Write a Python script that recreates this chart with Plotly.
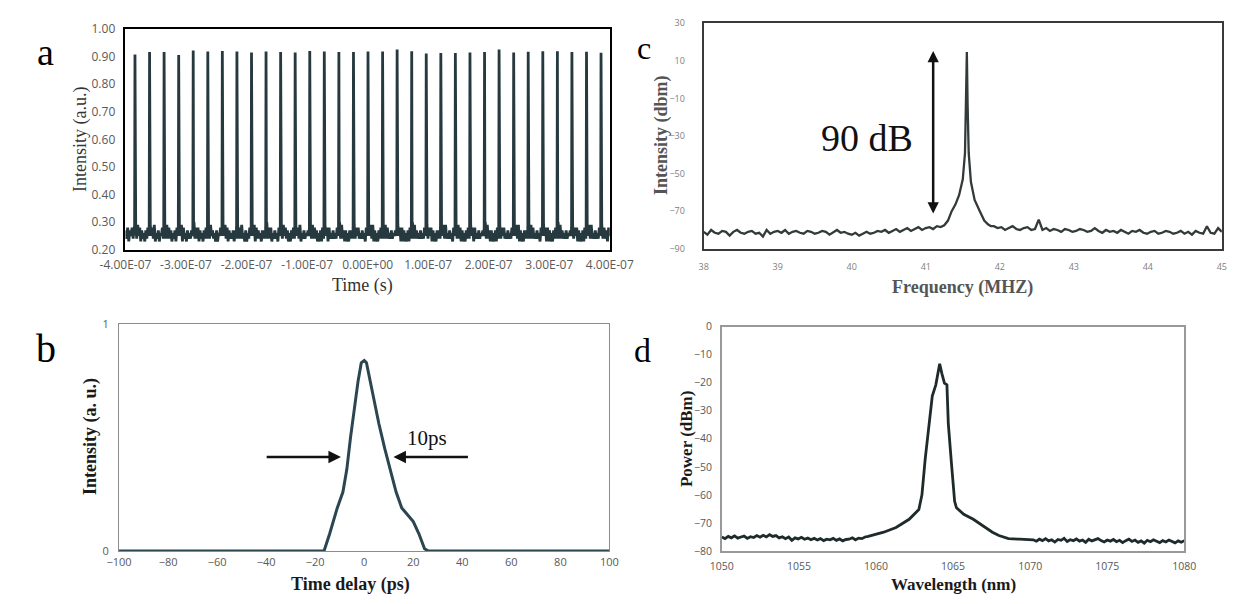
import plotly.graph_objects as go

W, H = 1252, 604

# ---------------- Panel a: pulse train ----------------
a_peak_times_ns = [-384.3, -360.2, -336.2, -312.1, -288.1, -264.0, -240.0, -215.9, -191.8,
                   -167.8, -143.7, -119.7, -95.6, -71.6, -47.5, -23.4, 0.6, 24.7, 48.7, 72.8,
                   96.8, 120.9, 144.9, 169.0, 193.1, 217.1, 241.2, 265.2, 289.3, 313.4, 337.4,
                   361.5, 385.5]
a_peak_heights = [0.908, 0.917, 0.917, 0.906, 0.922, 0.919, 0.921, 0.919, 0.915, 0.919, 0.917,
                  0.915, 0.921, 0.919, 0.917, 0.917, 0.919, 0.919, 0.926, 0.920, 0.912, 0.913,
                  0.913, 0.915, 0.917, 0.926, 0.915, 0.918, 0.920, 0.920, 0.917, 0.918, 0.914]
a_lead = "27 24 28 23 27 25 28 24 28"
a_trail = "29 24 28 24 27 23 28 25"
a_gaps = [
    "29 24 29 25 28 23 27 24 26 23 27 24 28 25",
    "29 25 28 24 29 23 26 24 27 23 26 25 28 24",
    "28 24 29 24 28 24 27 23 26 24 27 23 28 25",
    "29 25 29 23 28 24 26 23 27 24 26 24 27 25",
    "30 24 28 24 28 23 27 24 26 23 27 24 28 24",
    "29 24 29 25 27 24 26 23 27 23 26 25 28 25",
    "28 25 29 24 28 23 27 24 26 24 27 23 27 24",
    "29 24 28 24 29 24 26 23 27 23 26 24 28 25",
    "29 25 29 23 28 24 27 24 26 23 27 24 27 24",
    "30 24 28 24 28 23 26 24 27 24 26 23 28 25",
    "29 24 29 25 28 24 27 23 26 23 27 24 28 24",
    "28 25 28 24 29 23 26 24 27 24 26 25 27 25",
    "29 24 29 24 28 24 27 23 26 23 27 23 28 24",
    "29 25 28 23 28 24 26 24 27 24 26 24 28 25",
    "30 24 29 24 27 23 27 23 26 23 27 24 27 24",
    "29 24 28 25 28 24 26 24 27 24 26 23 28 25",
    "28 25 29 24 29 23 27 23 26 23 27 24 28 24",
    "29 24 29 24 28 24 26 24 27 24 26 25 27 25",
    "29 25 28 23 28 23 27 23 26 23 27 23 28 24",
    "30 24 29 24 27 24 26 24 27 24 26 24 28 25",
    "29 24 28 25 28 23 27 23 26 23 27 24 27 24",
    "28 25 29 24 29 24 26 24 27 24 26 23 28 25",
    "29 24 29 24 28 23 27 23 26 23 27 24 28 24",
    "29 25 28 23 28 24 26 24 27 24 26 25 27 25",
    "30 24 29 24 27 23 27 23 26 23 27 23 28 24",
    "29 24 28 25 28 24 26 24 27 24 26 24 28 25",
    "28 25 29 24 29 23 27 23 26 23 27 24 27 24",
    "29 24 29 24 28 24 26 24 27 24 26 23 28 25",
    "29 25 28 23 28 23 27 23 26 23 27 24 28 24",
    "30 24 29 24 27 24 26 24 27 24 26 25 27 25",
    "29 24 28 25 28 23 27 23 26 23 27 23 28 24",
    "28 25 29 24 29 24 26 24 27 24 26 24 28 25",
]
a_x_tickvals = [-4e-7, -3e-7, -2e-7, -1e-7, 0, 1e-7, 2e-7, 3e-7, 4e-7]
a_x_ticktext = ["-4.00E-07", "-3.00E-07", "-2.00E-07", "-1.00E-07", "0.00E+00",
                "1.00E-07", "2.00E-07", "3.00E-07", "4.00E-07"]
a_y_tickvals = [0.2, 0.3, 0.4, 0.5, 0.6, 0.7, 0.8, 0.9, 1.0]

# ---------------- Panel b: autocorrelation ----------------
b_x = [-100, -16.4, -14.1, -11, -8.7, -7.1, -5.6, -4.0, -2.5, -1.2, 0, 0.9, 2.2, 3.7, 6.0,
       8.4, 10.7, 13.0, 15.3, 17.6, 20, 22.3, 24.6, 26.2, 100]
b_y = [0, 0, 0.076, 0.19, 0.26, 0.36, 0.50, 0.63, 0.75, 0.83, 0.84, 0.83, 0.76, 0.68, 0.56,
       0.45, 0.35, 0.26, 0.19, 0.16, 0.13, 0.076, 0.01, 0, 0]

# ---------------- Panel c: RF spectrum ----------------
c_left = ("-81 -82.5 -80 -81.5 -82 -80.5 -81 -83 -81 -80 -81.5 -82 -81 -80.5 -82 -81.5 -83.5 "
          "-80 -82 -81 -80.5 -81.5 -80 -82 -81 -80.5 -81.5 -82 -80.5 -81 -82 -81.5 -80.5 -81 "
          "-82.5 -81 -80 -81.5 -81 -82 -82.5 -81.5 -83 -82 -81 -82 -81.5 -80.5 -81 -80 -81.5 "
          "-80.5 -79.5 -81 -80 -79 -80.5 -79.5 -78.5 -80 -79 -78.5 -79.5 -78 -78.5 -77.5")
c_peak_x = [41.30, 41.35, 41.40, 41.45, 41.50, 41.53, 41.545, 41.555, 41.565, 41.58, 41.61,
            41.66, 41.73, 41.79, 41.84, 41.88]
c_peak_y = [-75, -70, -66.5, -61.5, -53, -39, -13, 14.7, -13, -39, -54.5, -64, -70, -75, -77, -78]
c_right = ("-78 -79 -78.5 -80 -79 -78 -79.5 -80 -79 -78.5 -80 -79.5 -74.5 -80 -79 -80.5 -79.5 "
           "-80 -81 -79.5 -80 -81 -80.5 -79.5 -80 -81 -80.5 -79 -80.5 -81.5 -80 -81 -80.5 -81.5 "
           "-80 -81 -82 -80.5 -81 -80 -81.5 -82 -81 -80.5 -82 -81.5 -80.5 -81 -82 -81.5 -80.5 "
           "-82 -81 -82.5 -80.5 -81.5 -82 -78 -81.5 -82 -79 -81")

# ---------------- Panel d: optical spectrum ----------------
d_left = ("-75 -75.6 -74.8 -75.3 -74.6 -75.4 -75 -74.7 -75.5 -74.9 -75.2 -74.5 -75.1 -74.4 -75 "
          "-74.2 -74.8 -74.5 -75.3 -74.9 -75.6 -75 -76.2 -75.3 -75.7 -75.1 -75.8 -75.4 -76 -75.5 "
          "-76.1 -75.6 -76.3 -75.8 -76 -75.5 -76.2 -75.7 -76.4 -75.9 -75.8 -75.3 -76 -75.4 -75.6 "
          "-75 -74.8 -74.5")
d_peak_x = [1060.0, 1060.5, 1061.3, 1062.15, 1062.78, 1062.98, 1063.19, 1063.40, 1063.65,
            1063.88, 1063.98, 1064.13, 1064.27, 1064.44, 1064.60, 1064.69, 1064.89, 1065.10,
            1065.22, 1065.69, 1066.31, 1066.93, 1067.55, 1067.97, 1068.59, 1069.3, 1070.0]
d_peak_y = [-74.2, -73.3, -71.6, -68.7, -65.2, -60, -47.3, -35.8, -24.8, -20.8, -17.3, -13.3,
            -16.7, -20.2, -20.8, -34.6, -48.5, -62.3, -64.6, -66.9, -68.7, -71.0, -73.3, -74.5,
            -75.6, -75.8, -76.0]
d_right = ("-76 -76.5 -75.8 -76.3 -75.6 -76.4 -76 -76.8 -75.9 -76.2 -75.5 -76.6 -76 -76.3 -75.7 "
           "-76.5 -76.1 -76.9 -75.8 -76.4 -76 -75.6 -76.3 -76.8 -76.1 -76.5 -75.9 -76.7 -76.2 -77 "
           "-76.3 -75.8 -76.6 -76.1 -76.9 -76.4 -77.2 -76.2 -76.7 -76 -76.5 -77 -76.3 -76.8 -76.1 "
           "-76.6 -77.1 -76.4 -76.9 -76.3")


def parse(s, scale=1.0):
    return [float(v) * scale for v in s.split()]


def spread(x0, x1, n):
    if n == 1:
        return [x0]
    return [x0 + (x1 - x0) * i / (n - 1) for i in range(n)]


# build panel a trace
at, av = [], []
lead = parse(a_lead, 0.01)
for t, v in zip(spread(-400.0, a_peak_times_ns[0] - 1.2, len(lead)), lead):
    at.append(t); av.append(v)
for i, (tp, hp) in enumerate(zip(a_peak_times_ns, a_peak_heights)):
    at += [tp - 0.6, tp, tp + 0.6]
    av += [0.28, hp, 0.29]
    if i < len(a_gaps):
        g = parse(a_gaps[i], 0.01)
        xs = spread(tp + 1.2, a_peak_times_ns[i + 1] - 1.2, len(g))
    else:
        g = parse(a_trail, 0.01)
        xs = spread(tp + 1.2, 400.0, len(g))
    at += xs; av += g
at_s = [t * 1e-9 for t in at]

# panel c
cl = parse(c_left); cr = parse(c_right)
cx = spread(38.0, 41.25, len(cl)) + c_peak_x + spread(41.92, 45.0, len(cr))
cy = cl + c_peak_y + cr

# panel d
dl = parse(d_left); dr = parse(d_right)
dx = spread(1050.0, 1059.7, len(dl)) + d_peak_x + spread(1070.2, 1080.0, len(dr))
dy = dl + d_peak_y + dr


def px_x(a, b):
    return [a / W, b / W]


def px_y(top, bot):
    return [1 - bot / H, 1 - top / H]


fig = go.Figure()
fig.add_trace(go.Scatter(x=at_s, y=av, mode="lines", line=dict(color="#26393f", width=2.8),
                         xaxis="x", yaxis="y", showlegend=False))
fig.add_trace(go.Scatter(x=b_x, y=b_y, mode="lines", line=dict(color="#2b4650", width=3),
                         xaxis="x2", yaxis="y2", showlegend=False))
fig.add_trace(go.Scatter(x=cx, y=cy, mode="lines", line=dict(color="#333a3a", width=2.3),
                         xaxis="x3", yaxis="y3", showlegend=False))
fig.add_trace(go.Scatter(x=dx, y=dy, mode="lines", line=dict(color="#1f2b2b", width=2.8),
                         xaxis="x4", yaxis="y4", showlegend=False))

clear = "rgba(0,0,0,0)"


def ax(domain, anchor, rng, lc, lw, fsize, tlen, fcolor="#595959", **kw):
    d = dict(domain=domain, anchor=anchor, range=rng, showgrid=False, zeroline=False,
             showline=True, mirror=True, linecolor=lc, linewidth=lw,
             ticks="outside", ticklen=tlen, tickcolor=clear,
             tickfont=dict(family="Open Sans, Liberation Sans, sans-serif", size=fsize, color=fcolor))
    d.update(kw)
    return d


layout = dict(
    width=W, height=H, margin=dict(l=0, r=0, t=0, b=0),
    paper_bgcolor="white", plot_bgcolor="white", showlegend=False,
    xaxis=ax(px_x(103.6, 608.1), "y", [-4e-7, 4e-7], "#000000", 1.6, 12, 3,
             tickmode="array", tickvals=a_x_tickvals, ticktext=a_x_ticktext),
    yaxis=ax(px_y(20.7, 247.7), "x", [0.2, 1.0], "#000000", 1.6, 12, 6,
             tickmode="array", tickvals=a_y_tickvals, tickformat=".2f"),
    xaxis2=ax(px_x(96.9, 607.7), "y2", [-100, 100], "#8c8c8c", 1.2, 11, 1,
              tickmode="linear", tick0=-100, dtick=20),
    yaxis2=ax(px_y(324.3, 557.7), "x2", [0, 1], "#8c8c8c", 1.2, 11, 7,
              tickmode="array", tickvals=[0, 1]),
    xaxis3=ax(px_x(705.9, 1245.6), "y3", [38, 45], "#3a3a3a", 2, 9, 8, fcolor="#808080",
              tickmode="linear", tick0=38, dtick=1),
    yaxis3=ax(px_y(14.7, 246.7), "x3", [-90, 30], "#3a3a3a", 2, 9, 15, fcolor="#808080",
              tickmode="linear", tick0=-90, dtick=20),
    xaxis4=ax(px_x(724.8, 1206.5), "y4", [1050, 1080], "#999999", 1.5, 10.5, 5,
              tickmode="linear", tick0=1050, dtick=5),
    yaxis4=ax(px_y(326.7, 557.7), "x4", [-80, 0], "#999999", 1.5, 10.5, 6,
              tickmode="linear", tick0=-80, dtick=10),
)
fig.update_layout(**layout)

serif = "Liberation Serif, Times New Roman, serif"
ann = []


def ptext(text, x, y, size, color="#000", bold=False, angle=0):
    if bold:
        text = "<b>" + text + "</b>"
    ann.append(dict(text=text, x=x / W, y=1 - y / H, xref="paper", yref="paper",
                    xanchor="center", yanchor="middle", showarrow=False, textangle=angle,
                    font=dict(family=serif, size=size, color=color)))


# panel letters
ptext("a", 20, 44, 38)
ptext("b", 21, 349, 40)
ptext("c", 644, 40, 32)
ptext("d", 642, 351, 34)
# axis titles
ptext("Intensity (a.u.)", 57, 134, 18, color="#333333", angle=-90)
ptext("Time (s)", 351, 285, 18, color="#333333")
ptext("Intensity (a. u.)", 67, 440, 18, color="#1a1a1a", bold=True, angle=-90)
ptext("Time delay (ps)", 338, 592, 18, color="#1a1a1a", bold=True)
ptext("Intensity (dbm)", 662, 130, 18, color="#555555", bold=True, angle=-90)
ptext("Frequency (MHZ)", 975, 287, 18, color="#555555", bold=True)
ptext("Power (dBm)", 688, 443, 17, color="#1a1a1a", bold=True, angle=-90)
ptext("Wavelength (nm)", 966, 592, 17, color="#1a1a1a", bold=True)

# data-anchored annotations
ann.append(dict(text="90 dB", x=40.21, y=-31, xref="x3", yref="y3", showarrow=False,
                font=dict(family=serif, size=38, color="#111")))
ann.append(dict(text="", x=41.10, y=15.2, ax=41.10, ay=-72.0, xref="x3", yref="y3",
                axref="x3", ayref="y3", showarrow=True, arrowhead=2, arrowside="end+start",
                arrowsize=0.9, arrowwidth=2.5, arrowcolor="#111"))
ann.append(dict(text="10ps", x=25.5, y=0.50, xref="x2", yref="y2", showarrow=False,
                font=dict(family=serif, size=21, color="#111")))
ann.append(dict(text="", x=-9.5, y=0.414, ax=-40.4, ay=0.414, xref="x2", yref="y2",
                axref="x2", ayref="y2", showarrow=True, arrowhead=2, arrowsize=1,
                arrowwidth=2.5, arrowcolor="#111"))
ann.append(dict(text="", x=11.9, y=0.414, ax=42.9, ay=0.414, xref="x2", yref="y2",
                axref="x2", ayref="y2", showarrow=True, arrowhead=2, arrowsize=1,
                arrowwidth=2.5, arrowcolor="#111"))
fig.update_layout(annotations=ann)

fig.write_html("out.html")
